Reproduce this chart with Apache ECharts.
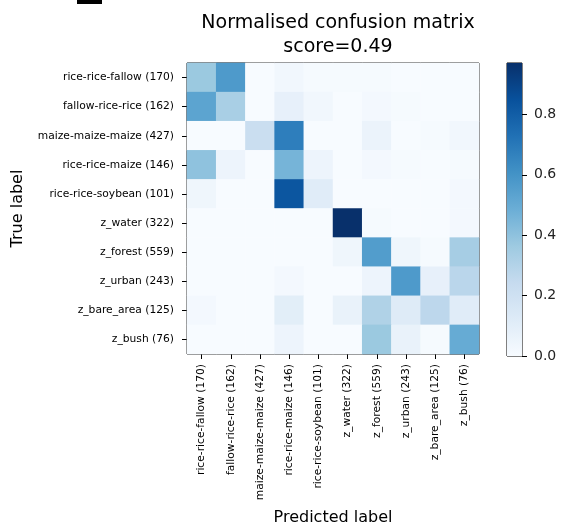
<!DOCTYPE html>
<html>
<head>
<meta charset="utf-8">
<script src="https://cdn.jsdelivr.net/npm/echarts@6/dist/echarts.min.js"></script>
<style>
  html, body { margin: 0; padding: 0; background: #fff; }
  #chart { width: 567px; height: 531px; }
</style>
</head>
<body>
<div id="chart"></div>
<script>
// class names and sample counts
var classNames = ['rice-rice-fallow', 'fallow-rice-rice', 'maize-maize-maize', 'rice-rice-maize',
    'rice-rice-soybean', 'z_water', 'z_forest', 'z_urban', 'z_bare_area', 'z_bush'];
var classCounts = [170, 162, 427, 146, 101, 322, 559, 243, 125, 76];

// normalised confusion matrix, one row per true label
var cm = [
    [0.37, 0.57, 0.00, 0.03, 0.01, 0.01, 0.01, 0.00, 0.00, 0.00],
    [0.53, 0.33, 0.00, 0.08, 0.03, 0.00, 0.02, 0.01, 0.00, 0.00],
    [0.00, 0.00, 0.22, 0.68, 0.00, 0.00, 0.06, 0.00, 0.01, 0.03],
    [0.40, 0.05, 0.00, 0.46, 0.05, 0.00, 0.02, 0.01, 0.00, 0.01],
    [0.04, 0.00, 0.00, 0.83, 0.11, 0.00, 0.00, 0.00, 0.00, 0.02],
    [0.00, 0.00, 0.00, 0.00, 0.00, 0.97, 0.01, 0.00, 0.00, 0.02],
    [0.00, 0.00, 0.00, 0.00, 0.00, 0.04, 0.56, 0.04, 0.01, 0.34],
    [0.00, 0.00, 0.00, 0.02, 0.00, 0.00, 0.05, 0.57, 0.08, 0.28],
    [0.02, 0.00, 0.00, 0.10, 0.00, 0.07, 0.31, 0.12, 0.27, 0.11],
    [0.00, 0.00, 0.00, 0.05, 0.00, 0.00, 0.37, 0.07, 0.01, 0.50]
];
var cbarMax = 0.97;
var scoreText = 'score=0.49';

// matplotlib "Blues"
var blues = ['#f7fbff', '#deebf7', '#c6dbef', '#9ecae1', '#6baed6', '#4292c6', '#2171b5', '#08519c', '#08306b'];

var labels = classNames.map(function(n, i){ return n + ' (' + classCounts[i] + ')'; });
var cells = [];
cm.forEach(function(row, y){
    row.forEach(function(v, x){ cells.push([x, y, v]); });
});

var font = 'DejaVu Sans';
var stops = blues.map(function(c, i){ return {offset: i / (blues.length - 1), color: c}; });

var chart = echarts.init(document.getElementById('chart'), null, {renderer: 'canvas'});
chart.setOption({
    animation: false,
    backgroundColor: '#fff',
    textStyle: {fontFamily: font},
    title: {
        text: 'Normalised confusion matrix\n' + scoreText,
        left: 333,
        top: 6,
        textAlign: 'center',
        textStyle: {fontFamily: font, fontSize: 19, fontWeight: 'normal', color: '#000', lineHeight: 24}
    },
    graphic: [
        {type: 'rect', shape: {x: 77, y: 0, width: 25, height: 4}, style: {fill: '#000'}}
    ],
    grid: [
        {left: 187, top: 63, width: 292, height: 293, show: true, borderColor: '#000', borderWidth: 1, backgroundColor: 'transparent'},
        {left: 507, top: 63, width: 15, height: 293, show: true, borderColor: '#000', borderWidth: 1, backgroundColor: 'transparent'}
    ],
    xAxis: [
        {
            type: 'category', gridIndex: 0, data: labels,
            name: 'Predicted label', nameLocation: 'middle', nameGap: 156,
            nameTextStyle: {fontSize: 16, color: '#000', fontFamily: font},
            axisLine: {show: false},
            axisTick: {show: true, alignWithLabel: true, length: 5, inside: false, lineStyle: {color: '#000'}},
            axisLabel: {rotate: 90, fontSize: 10.7, color: '#000', margin: 10, interval: 0, fontFamily: font},
            splitLine: {show: false}
        },
        {type: 'category', gridIndex: 1, data: [''], show: false}
    ],
    yAxis: [
        {
            type: 'category', gridIndex: 0, data: labels, inverse: true,
            name: 'True label', nameLocation: 'middle', nameGap: 161, nameRotate: 90,
            nameTextStyle: {fontSize: 16, color: '#000', fontFamily: font},
            axisLine: {show: false},
            axisTick: {show: true, alignWithLabel: true, length: 5, lineStyle: {color: '#000'}},
            axisLabel: {fontSize: 10.7, color: '#000', margin: 13, interval: 0, fontFamily: font},
            splitLine: {show: false}
        },
        {
            type: 'value', gridIndex: 1, position: 'right', min: 0, max: cbarMax, interval: 0.2,
            axisLine: {show: false},
            axisTick: {show: true, length: 5, lineStyle: {color: '#000'}},
            axisLabel: {fontSize: 14, color: '#222', margin: 12, showMaxLabel: false, fontFamily: font,
                formatter: function(v){ return v.toFixed(1); }},
            splitLine: {show: false}
        }
    ],
    visualMap: {
        show: false, type: 'continuous', seriesIndex: 0, dimension: 2,
        min: 0, max: cbarMax, inRange: {color: blues}
    },
    series: [
        {
            type: 'heatmap', xAxisIndex: 0, yAxisIndex: 0, data: cells,
            itemStyle: {borderWidth: 0},
            emphasis: {disabled: true}
        },
        {
            type: 'bar', xAxisIndex: 1, yAxisIndex: 1, data: [cbarMax], barWidth: '100%',
            itemStyle: {color: new echarts.graphic.LinearGradient(0, 1, 0, 0, stops)},
            silent: true
        }
    ]
});
</script>
</body>
</html>
